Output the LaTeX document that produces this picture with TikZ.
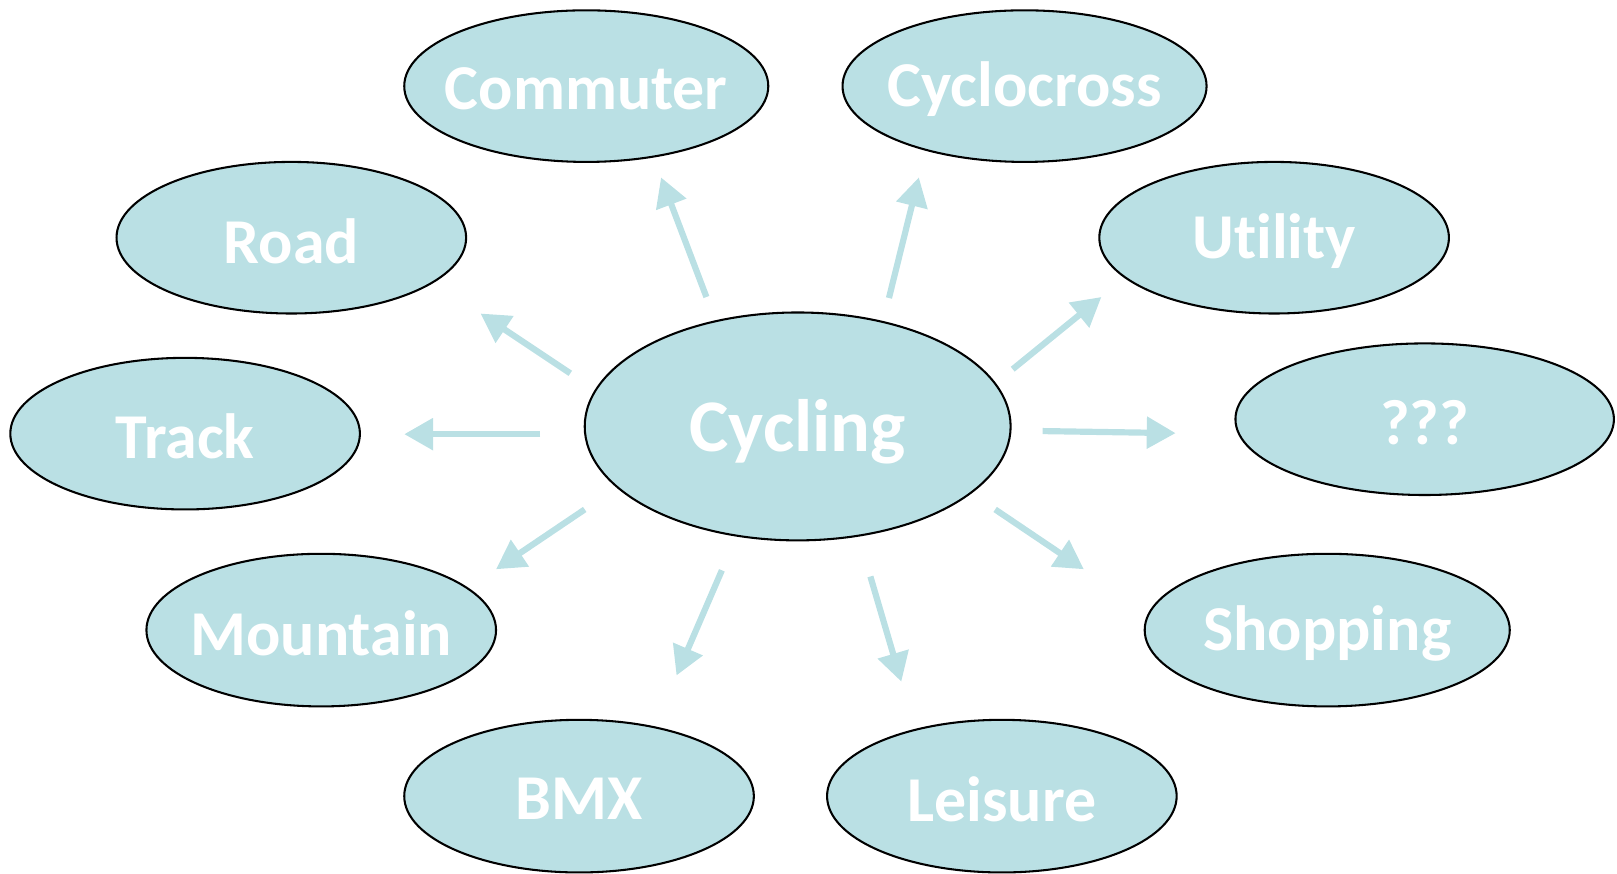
\documentclass[tikz,border=0pt]{standalone}
\usepackage{fontspec}
\setmainfont[Ligatures=NoCommon]{Carlito}
\usetikzlibrary{shapes.geometric,arrows.meta}
\definecolor{bubfill}{RGB}{186,224,228}
\definecolor{arrcol}{RGB}{186,224,228}
\tikzset{
  bub/.style={ellipse, draw=black, line width=1pt, fill=bubfill, inner sep=0pt},
  lab/.style={text=white, font=\bfseries\fontsize{31}{36}\selectfont, inner sep=0pt, yshift=-1.5pt},
  biglab/.style={text=white, font=\bfseries\fontsize{36}{42}\selectfont, inner sep=0pt, yshift=-2.5pt},
  conn/.style={draw=arrcol, line width=3pt, -{Triangle[length=14pt,width=15pt]}},
}
\begin{document}
\begin{tikzpicture}[x=0.5pt,y=-0.5pt]
\useasboundingbox (0,0) rectangle (1568,847);
% ellipses
\node[bub, minimum width=353pt/2, minimum height=147pt/2, label={[lab]center:Commuter}] (commuter) at (568.5,83.5) {};
\node[bub, minimum width=353pt/2, minimum height=147pt/2, label={[lab]center:Cyclocross}] (cyclocross) at (993.5,83.5) {};
\node[bub, minimum width=339pt/2, minimum height=147pt/2, label={[lab]center:Road}] (road) at (282.5,230.5) {};
\node[bub, minimum width=339pt/2, minimum height=147pt/2, label={[lab]center:Utility}] (utility) at (1235.5,230.5) {};
\node[bub, minimum width=339pt/2, minimum height=147pt/2, label={[lab]center:Track}] (track) at (179.5,420.5) {};
\node[bub, minimum width=413pt/2, minimum height=221pt/2, label={[biglab]center:Cycling}] (cycling) at (773.5,413.5) {};
\node[bub, minimum width=367pt/2, minimum height=147pt/2, label={[lab]center:???}] (unknown) at (1381.5,406.5) {};
\node[bub, minimum width=339pt/2, minimum height=148pt/2, label={[lab]center:Mountain}] (mountain) at (311.5,611) {};
\node[bub, minimum width=354pt/2, minimum height=148pt/2, label={[lab]center:Shopping}] (shopping) at (1287,611) {};
\node[bub, minimum width=339pt/2, minimum height=148pt/2, label={[lab]center:BMX}] (bmx) at (561.5,772) {};
\node[bub, minimum width=339pt/2, minimum height=148pt/2, label={[lab]center:Leisure}] (leisure) at (971.5,772) {};
% arrow end points
\coordinate (s1) at (685,288); \coordinate (t1) at (641,172);
\coordinate (s2) at (862,289); \coordinate (t2) at (891,172);
\coordinate (s3) at (553,362); \coordinate (t3) at (466,304);
\coordinate (s4) at (524,421); \coordinate (t4) at (392,421);
\coordinate (s5) at (567,494); \coordinate (t5) at (481,552);
\coordinate (s6) at (700,553); \coordinate (t6) at (656,655);
\coordinate (s7) at (844,559); \coordinate (t7) at (874,661);
\coordinate (s8) at (965,494); \coordinate (t8) at (1051,552);
\coordinate (s9) at (1011,418); \coordinate (t9) at (1140,420);
\coordinate (s10) at (982,358); \coordinate (t10) at (1068,288);
% connectors
\foreach \i in {1,...,10} {\draw[conn] (s\i) -- (t\i);}
\end{tikzpicture}
\end{document}
